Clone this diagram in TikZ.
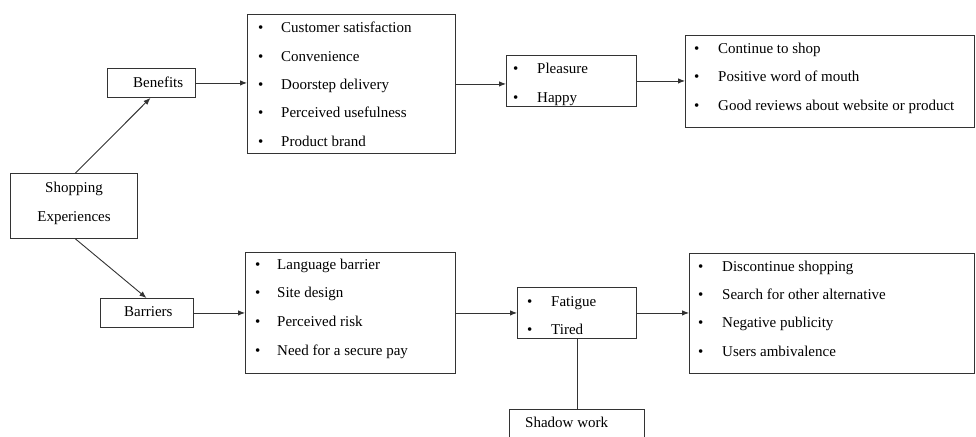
\documentclass[tikz,border=0pt]{standalone}
\usepackage{fontspec}
\setmainfont{Liberation Serif}
\usetikzlibrary{arrows.meta}
\tikzset{
  box/.style={draw=black!80, line width=0.9pt, inner sep=0pt, anchor=north west},
  txt/.style={anchor=west, inner sep=0pt, text height=10pt, text depth=3pt,
              font=\fontsize{15}{18}\selectfont, text=black},
  arr/.style={draw=black!80, line width=0.9pt, -{Latex[length=7pt,width=5.5pt]}},
  link/.style={draw=black!80, line width=0.9pt},
}
\newcommand{\bul}{\textbullet}
\begin{document}
\begin{tikzpicture}[x=1pt,y=-1pt]
\useasboundingbox (0,0) rectangle (976,436);

% boxes
\node[box, minimum width=127pt, minimum height=65pt] (shop) at (10,173) {};
\node[box, minimum width=88pt,  minimum height=29pt] (ben)  at (107,68) {};
\node[box, minimum width=93pt,  minimum height=29pt] (bar)  at (100,298) {};
\node[box, minimum width=208pt, minimum height=139pt] (l1)  at (247,14) {};
\node[box, minimum width=130pt, minimum height=51pt] (pl)   at (506,55) {};
\node[box, minimum width=289pt, minimum height=92pt] (r1)   at (685,35) {};
\node[box, minimum width=210pt, minimum height=121pt] (l2)  at (245,252) {};
\node[box, minimum width=119pt, minimum height=51pt] (fat)  at (517,287) {};
\node[box, minimum width=285pt, minimum height=120pt] (r2)  at (689,253) {};
\node[box, minimum width=135pt, minimum height=45pt] (sh)   at (509,409) {};

% labels of the single boxes
\node[txt, anchor=center] (tshop1) at (74,189) {Shopping};
\node[txt, anchor=center] (tshop2) at (74,218) {Experiences};
\node[txt] (tben) at (133,84) {Benefits};
\node[txt] (tbar) at (124,313) {Barriers};
\node[txt] (tsh)  at (525,424) {Shadow work};

% benefit factors
\foreach \y/\t [count=\i] in {29/Customer satisfaction, 58/Convenience, 86/Doorstep delivery, 114/Perceived usefulness, 143/Product brand}{
  \node[txt] (b\i) at (258,\y) {\bul};
  \node[txt] (bt\i) at (281,\y) {\t};
}
% positive feelings
\foreach \y/\t [count=\i] in {70/Pleasure, 99/Happy}{
  \node[txt] (p\i) at (513,\y) {\bul};
  \node[txt] (pt\i) at (537,\y) {\t};
}
% positive outcomes
\foreach \y/\t [count=\i] in {50/Continue to shop, 78/Positive word of mouth, 107/Good reviews about website or product}{
  \node[txt] (o\i) at (694,\y) {\bul};
  \node[txt] (ot\i) at (718,\y) {\t};
}
% barrier factors
\foreach \y/\t [count=\i] in {266/Language barrier, 294/Site design, 323/Perceived risk, 352/Need for a secure pay}{
  \node[txt] (k\i) at (255,\y) {\bul};
  \node[txt] (kt\i) at (277,\y) {\t};
}
% negative feelings
\foreach \y/\t [count=\i] in {303/Fatigue, 331/Tired}{
  \node[txt] (f\i) at (527,\y) {\bul};
  \node[txt] (ft\i) at (551,\y) {\t};
}
% negative outcomes
\foreach \y/\t [count=\i] in {268/Discontinue shopping, 296/Search for other alternative, 324/Negative publicity, 353/Users ambivalence}{
  \node[txt] (n\i) at (698,\y) {\bul};
  \node[txt] (nt\i) at (722,\y) {\t};
}

% connectors
\draw[arr] ([xshift=1.5pt]shop.north) -- ([xshift=-1pt]ben.south);
\draw[arr] ([xshift=1.5pt]shop.south) -- ([xshift=-0.5pt]bar.north);
\draw[arr] (ben.east) -- (ben.east -| l1.west);
\draw[arr] (l1.east) -- (l1.east -| pl.west);
\draw[arr] (pl.east) -- (pl.east -| r1.west);
\draw[arr] (bar.east) -- (bar.east -| l2.west);
\draw[arr] (l2.east) -- (l2.east -| fat.west);
\draw[arr] (fat.east) -- (fat.east -| r2.west);
\draw[link] (fat.south) -- (sh.north);
\end{tikzpicture}
\end{document}
